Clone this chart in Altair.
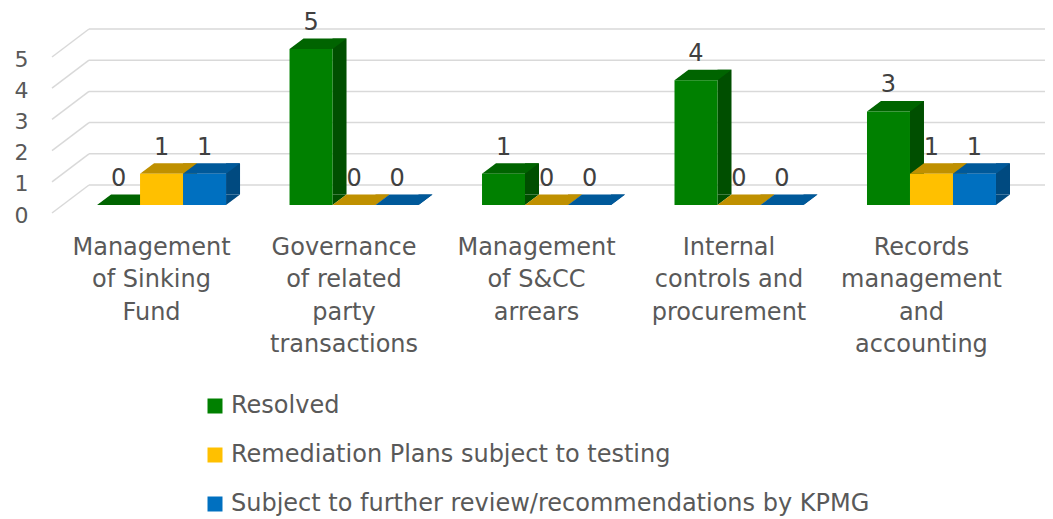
import json
import altair as alt
import pandas as pd

# ---- data ----
categories = [
    "Management of Sinking Fund",
    "Governance of related party transactions",
    "Management of S&CC arrears",
    "Internal controls and procurement",
    "Records management and accounting",
]
label_lines = [
    ["Management", "of Sinking", "Fund"],
    ["Governance", "of related", "party", "transactions"],
    ["Management", "of S&CC", "arrears"],
    ["Internal", "controls and", "procurement"],
    ["Records", "management", "and", "accounting"],
]
series = [
    "Resolved",
    "Remediation Plans subject to testing",
    "Subject to further review/recommendations by KPMG",
]
resolved = [0, 5, 1, 4, 3]
remediation = [1, 0, 0, 0, 1]
further_review = [1, 0, 0, 0, 1]
y_ticks = [0, 1, 2, 3, 4, 5]

# ---- styles ----
front_colors = ["#008000", "#FFC000", "#0070C0"]
top_colors = ["#006400", "#BF9000", "#00599A"]
side_colors = ["#004F00", "#9E7800", "#004A80"]
FONT = "DejaVu Sans"
GREY = "#595959"

rows = []
for i, c in enumerate(categories):
    for s, vals in zip(series, [resolved, remediation, further_review]):
        rows.append({"category": c, "series": s, "value": vals[i]})
df = pd.DataFrame(rows)
grid_df = pd.DataFrame({"tick": y_ticks})

# label expression: wrap category names onto several lines
expr = ""
for c, lines in zip(categories, label_lines):
    expr += f"datum.label == {json.dumps(c)} ? {json.dumps(lines)} : "
expr += "datum.label"

y_scale = alt.Scale(domain=[0, 5], nice=False, zero=True)
y_axis = alt.Axis(
    title=None, values=y_ticks, domain=False, ticks=False, grid=False,
    labelFont=FONT, labelFontSize=22, labelColor=GREY, labelPadding=24,
    labelOffset=10,
)
x_scale = alt.Scale(domain=categories, paddingInner=0.33, paddingOuter=0.234)
x_axis = alt.Axis(
    title=None, domain=False, ticks=False, grid=False, labelAngle=0,
    labelExpr=expr, labelFont=FONT, labelFontSize=24, labelColor=GREY,
    labelLineHeight=32.5, labelPadding=30, labelOffset=-10, labelLimit=400,
    labelOverlap=False,
)
xo = alt.XOffset("series:N", sort=series,
                 scale=alt.Scale(type="band", domain=series, paddingInner=0, paddingOuter=0,
                                 range=[0, 129]))
# the side faces sit one depth-step to the right of the front faces
xo_side = alt.XOffset("series:N", sort=series,
                      scale=alt.Scale(type="band", domain=series, paddingInner=0, paddingOuter=0,
                                      range=[28.5, 157.5]))
X = alt.X("category:N", sort=categories, scale=x_scale, axis=x_axis)

# ---- perspective grid ----
grid_back = alt.Chart(grid_df).mark_rule(color="#d9d9d9", strokeWidth=1.5, yOffset=-20).encode(
    y=alt.Y("tick:Q", scale=y_scale, axis=y_axis),
    x=alt.value(37), x2=alt.value(995),
)
grid_slant = alt.Chart(grid_df).mark_rule(color="#d9d9d9", strokeWidth=1.5,
                                          yOffset=8, y2Offset=-20).encode(
    y=alt.Y("tick:Q", scale=y_scale, axis=y_axis),
    y2="tick:Q",
    x=alt.value(0), x2=alt.value(37),
)

base = alt.Chart(df)

side = base.mark_bar(width=14, yOffset=-10.5, y2Offset=-10.5).encode(
    x=X, xOffset=xo_side,
    y=alt.Y("value:Q", scale=y_scale, axis=y_axis),
    color=alt.Color("series:N", scale=alt.Scale(domain=series, range=side_colors), legend=None),
)

side_tri = base.transform_calculate(base="0").mark_point(
    shape="M 21.5 0 L 21.5 -10.5 L 35.5 -10.5 Z", size=4, filled=True, opacity=1, strokeWidth=0,
).encode(
    x=X, xOffset=xo,
    y=alt.Y("base:Q", scale=y_scale, axis=y_axis),
    color=alt.Color("series:N", scale=alt.Scale(domain=series, range=side_colors), legend=None),
)

top = base.mark_point(
    shape="M -21.5 0 L 21.5 0 L 35.5 -10.5 L -7.5 -10.5 Z", size=4, filled=True, opacity=1, strokeWidth=0,
).encode(
    x=X, xOffset=xo,
    y=alt.Y("value:Q", scale=y_scale, axis=y_axis),
    color=alt.Color("series:N", scale=alt.Scale(domain=series, range=top_colors), legend=None),
)

front = base.mark_bar().encode(
    x=X, xOffset=xo,
    y=alt.Y("value:Q", scale=y_scale, axis=y_axis),
    color=alt.Color(
        "series:N", scale=alt.Scale(domain=series, range=front_colors),
        legend=alt.Legend(
            title=None, orient="none", legendX=151, legendY=345, direction="vertical",
            symbolType="square", symbolSize=225, symbolStrokeWidth=0, symbolOpacity=1,
            labelFont=FONT, labelFontSize=24, labelColor=GREY, rowPadding=25,
            labelOffset=4, labelLimit=1000, padding=0,
        ),
    ),
)

labels = base.mark_text(font=FONT, fontSize=24, color="#404040", baseline="middle", dy=-26).encode(
    x=X, xOffset=xo,
    y=alt.Y("value:Q", scale=y_scale, axis=y_axis),
    text="value:Q",
)

chart = alt.layer(grid_back, grid_slant, side, side_tri, top, front, labels).resolve_scale(
    color="independent", xOffset="independent"
).properties(
    width=989, height=156,
    padding={"left": 44, "top": 41, "right": 4, "bottom": 311},
    autosize=alt.AutoSizeParams(type="none"),
    background="white",
).configure_view(stroke=None)

chart.save("out.html", embed_options={"renderer": "svg", "actions": False})
